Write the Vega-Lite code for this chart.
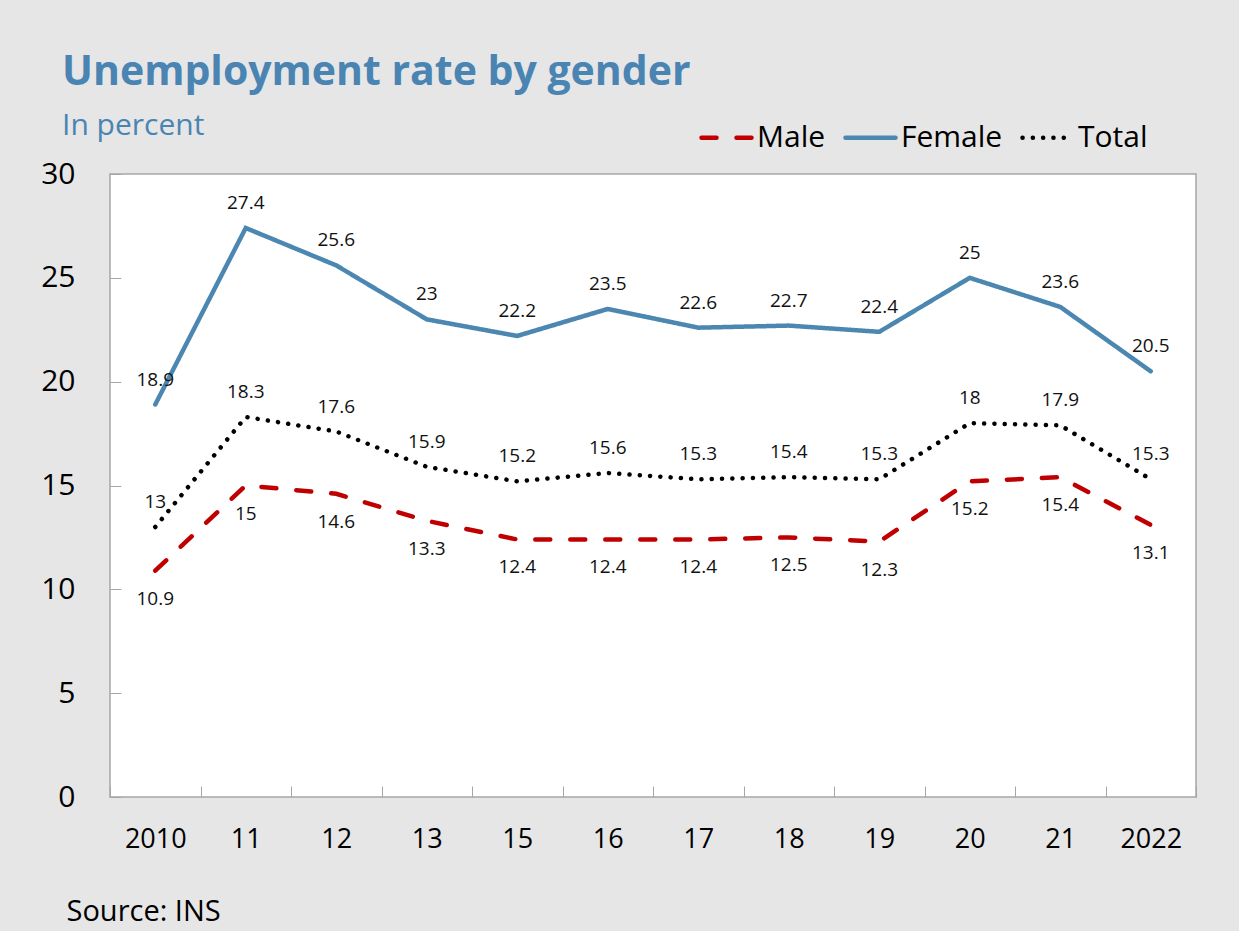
{
  "$schema": "https://vega.github.io/schema/vega-lite/v6.json",
  "width": 1086,
  "height": 623,
  "autosize": {"type": "none"},
  "padding": {"left": 110, "top": 174, "right": 43, "bottom": 134},
  "background": "#e6e6e6",
  "config": {
    "font": "Open Sans",
    "view": {"fill": "#ffffff", "stroke": "#a6a6a6", "strokeWidth": 1.5}
  },
  "title": {
    "text": "Unemployment rate by gender",
    "subtitle": "In percent",
    "anchor": "start",
    "frame": "group",
    "dx": -48,
    "offset": 0,
    "dy": 32,
    "fontSize": 41,
    "fontWeight": "bold",
    "color": "#4a84b2",
    "subtitleFontSize": 30,
    "subtitleColor": "#4a84b2",
    "subtitlePadding": 17
  },
  "data": {
    "values": [
      {"year": "2010", "series": "Male", "value": 10.9},
      {"year": "11", "series": "Male", "value": 15},
      {"year": "12", "series": "Male", "value": 14.6},
      {"year": "13", "series": "Male", "value": 13.3},
      {"year": "15", "series": "Male", "value": 12.4},
      {"year": "16", "series": "Male", "value": 12.4},
      {"year": "17", "series": "Male", "value": 12.4},
      {"year": "18", "series": "Male", "value": 12.5},
      {"year": "19", "series": "Male", "value": 12.3},
      {"year": "20", "series": "Male", "value": 15.2},
      {"year": "21", "series": "Male", "value": 15.4},
      {"year": "2022", "series": "Male", "value": 13.1},
      {"year": "2010", "series": "Female", "value": 18.9},
      {"year": "11", "series": "Female", "value": 27.4},
      {"year": "12", "series": "Female", "value": 25.6},
      {"year": "13", "series": "Female", "value": 23},
      {"year": "15", "series": "Female", "value": 22.2},
      {"year": "16", "series": "Female", "value": 23.5},
      {"year": "17", "series": "Female", "value": 22.6},
      {"year": "18", "series": "Female", "value": 22.7},
      {"year": "19", "series": "Female", "value": 22.4},
      {"year": "20", "series": "Female", "value": 25},
      {"year": "21", "series": "Female", "value": 23.6},
      {"year": "2022", "series": "Female", "value": 20.5},
      {"year": "2010", "series": "Total", "value": 13},
      {"year": "11", "series": "Total", "value": 18.3},
      {"year": "12", "series": "Total", "value": 17.6},
      {"year": "13", "series": "Total", "value": 15.9},
      {"year": "15", "series": "Total", "value": 15.2},
      {"year": "16", "series": "Total", "value": 15.6},
      {"year": "17", "series": "Total", "value": 15.3},
      {"year": "18", "series": "Total", "value": 15.4},
      {"year": "19", "series": "Total", "value": 15.3},
      {"year": "20", "series": "Total", "value": 18},
      {"year": "21", "series": "Total", "value": 17.9},
      {"year": "2022", "series": "Total", "value": 15.3}
    ]
  },
  "encoding": {
    "x": {
      "field": "year",
      "type": "nominal",
      "sort": ["2010", "11", "12", "13", "15", "16", "17", "18", "19", "20", "21", "2022"],
      "scale": {"type": "band", "paddingInner": 0, "paddingOuter": 0},
      "axis": {
        "title": "Source: INS",
        "titleAnchor": "start",
        "titleAlign": "left",
        "titleX": -44,
        "titleY": 123,
        "titleFontSize": 29,
        "titleFontWeight": "normal",
        "titleColor": "#000000",
        "titleBaseline": "alphabetic",
        "labelAngle": 0,
        "labelFontSize": 27,
        "labelColor": "#000000",
        "labelPadding": 40,
        "tickBand": "extent",
        "tickSize": -11,
        "tickColor": "#a6a6a6",
        "domain": false
      }
    },
    "y": {
      "field": "value",
      "type": "quantitative",
      "scale": {"domain": [0, 30], "nice": false},
      "axis": {
        "title": null,
        "values": [0, 5, 10, 15, 20, 25, 30],
        "labelFontSize": 30,
        "labelColor": "#000000",
        "labelPadding": 46,
        "tickSize": -11,
        "tickColor": "#a6a6a6",
        "domain": false,
        "grid": false
      }
    }
  },
  "layer": [
    {
      "mark": {"type": "line", "strokeWidth": 4.5, "strokeCap": "round"},
      "encoding": {
        "color": {
          "field": "series",
          "type": "nominal",
          "scale": {"domain": ["Male", "Female", "Total"], "range": ["#c00000", "#4b87b0", "#000000"]},
          "legend": {
            "title": null,
            "orient": "none",
            "direction": "horizontal",
            "legendX": 589,
            "legendY": -64,
            "symbolType": "stroke",
            "symbolSize": 2500,
            "symbolStrokeWidth": 4.5,
            "labelFontSize": 30,
            "labelColor": "#000000",
            "labelOffset": 3,
            "columnPadding": 10,
            "encoding": {"symbols": {"strokeCap": {"value": "round"}}}
          }
        },
        "strokeDash": {
          "field": "series",
          "type": "nominal",
          "scale": {"domain": ["Male", "Female", "Total"], "range": [[15, 20], [1, 0], [0.1, 10.2]]},
          "legend": null
        }
      }
    },
    {
      "transform": [{"filter": "datum.series === 'Male'"}],
      "mark": {"type": "text", "dy": 28, "fontSize": 19, "color": "#111111"},
      "encoding": {"text": {"field": "value", "type": "quantitative"}}
    },
    {
      "transform": [{"filter": "datum.series !== 'Male'"}],
      "mark": {"type": "text", "dy": -25, "fontSize": 19, "color": "#111111"},
      "encoding": {"text": {"field": "value", "type": "quantitative"}}
    }
  ]
}
